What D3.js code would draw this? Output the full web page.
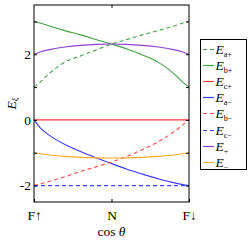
<!DOCTYPE html>
<html>
<head>
<meta charset="utf-8">
<script src="https://cdn.jsdelivr.net/npm/d3@7"></script>
<style>
  body { margin: 0; background: #fff; }
  svg { display: block; }
  text { font-family: "Liberation Serif", "DejaVu Serif", serif; }
</style>
</head>
<body>
<div id="chart"></div>
<script>
// position along cos(theta): 1 = F↑, 0 = N, -1 = F↓
const cosTheta = [1, 0.92, 0.8, 0.6, 0.4, 0.2, 0, -0.2, -0.4, -0.6, -0.8, -0.92, -1];

const Eap = [1.0, 1.15, 1.42, 1.76, 1.95, 2.13, 2.31, 2.45, 2.59, 2.72, 2.86, 2.95, 3.0];
const Ebp = [3.0, 2.95, 2.86, 2.72, 2.59, 2.45, 2.31, 2.16, 1.98, 1.76, 1.42, 1.15, 1.0];
const Ecp = [0, 0, 0, 0, 0, 0, 0, 0, 0, 0, 0, 0, 0];
const Eam = [0, -0.24, -0.47, -0.75, -0.96, -1.15, -1.33, -1.5, -1.65, -1.79, -1.91, -1.97, -2.0];
const Ebm = [-2.0, -1.95, -1.87, -1.73, -1.57, -1.43, -1.28, -1.11, -0.9, -0.67, -0.37, -0.15, 0];
const Ecm = [-2, -2, -2, -2, -2, -2, -2, -2, -2, -2, -2, -2, -2];
const Eplus = [2.0, 2.07, 2.14, 2.22, 2.27, 2.3, 2.31, 2.3, 2.27, 2.22, 2.14, 2.07, 2.0];
const Eminus = [-1.0, -1.03, -1.07, -1.11, -1.14, -1.155, -1.16, -1.155, -1.14, -1.11, -1.07, -1.03, -1.0];

const xTicks = [1, 0, -1];
const xTickLabels = ['F\u2191', 'N', 'F\u2193'];
const yTicks = [-2, -1, 0, 1, 2, 3];
const yTickLabels = ['-2', '', '0', '', '2', ''];

const series = [
  { main: 'E', sub: 'a+', values: Eap, color: '#3ea33e', dash: '4,3' },
  { main: 'E', sub: 'b+', values: Ebp, color: '#3ea33e', dash: null },
  { main: 'E', sub: 'c+', values: Ecp, color: '#ff3b3b', dash: null },
  { main: 'E', sub: 'a\u2212', values: Eam, color: '#3a3aff', dash: null },
  { main: 'E', sub: 'b\u2212', values: Ebm, color: '#ff4a4a', dash: '4,3' },
  { main: 'E', sub: 'c\u2212', values: Ecm, color: '#3a4aff', dash: '4,3' },
  { main: 'E', sub: '+', values: Eplus, color: '#9040d0', dash: null },
  { main: 'E', sub: '\u2212', values: Eminus, color: '#ffaa22', dash: null }
];

const margin = { top: 5, right: 61, bottom: 39, left: 34 };
const width = 250 - margin.left - margin.right;
const height = 241 - margin.top - margin.bottom;

const x = d3.scaleLinear().domain([1, -1]).range([0, width]);
const y = d3.scaleLinear().domain([-2.5, 3.5]).range([height, 0]);

const svg = d3.select('#chart').append('svg')
  .attr('width', 250)
  .attr('height', 241);

const g = svg.append('g')
  .attr('transform', `translate(${margin.left},${margin.top})`);

const line = d3.line()
  .x((d, i) => x(cosTheta[i]))
  .y(d => y(d))
  .curve(d3.curveMonotoneX);

series.forEach(s => {
  g.append('path')
    .datum(s.values)
    .attr('fill', 'none')
    .attr('stroke', s.color)
    .attr('stroke-width', 1.1)
    .attr('stroke-dasharray', s.dash)
    .attr('d', line);
});

// axes
const fmtY = d => yTickLabels[yTicks.indexOf(d)];
const fmtX = d => xTickLabels[xTicks.indexOf(d)];

g.append('g')
  .call(d3.axisLeft(y).tickValues(yTicks).tickSize(-3).tickPadding(3).tickFormat(fmtY))
  .call(a => a.select('.domain').remove());
g.append('g')
  .attr('transform', `translate(${width},0)`)
  .call(d3.axisRight(y).tickValues(yTicks).tickSize(-3).tickFormat(''))
  .call(a => a.select('.domain').remove());
g.append('g')
  .attr('transform', `translate(0,${height})`)
  .call(d3.axisBottom(x).tickValues(xTicks).tickSize(-3).tickPadding(8).tickFormat(fmtX))
  .call(a => a.select('.domain').remove());
g.append('g')
  .call(d3.axisTop(x).tickValues([0]).tickSize(-3).tickFormat(''))
  .call(a => a.select('.domain').remove());

g.selectAll('.tick text').attr('font-size', 13.5).attr('fill', '#000')
  .style('font-family', '"Liberation Serif", serif');

g.append('rect')
  .attr('width', width)
  .attr('height', height)
  .attr('fill', 'none')
  .attr('stroke', '#000')
  .attr('stroke-width', 1);

// axis titles
const xt = svg.append('text')
  .attr('x', margin.left + width / 2)
  .attr('y', 236)
  .attr('text-anchor', 'middle')
  .attr('font-size', 13.5);
xt.append('tspan').text('cos ');
xt.append('tspan').attr('font-style', 'italic').text('\u03b8');

const yt = svg.append('text')
  .attr('transform', `translate(16,${margin.top + height / 2}) rotate(-90)`)
  .attr('text-anchor', 'middle')
  .attr('font-size', 13.5);
yt.append('tspan').attr('font-style', 'italic').text('E');
yt.append('tspan').attr('font-size', 8.5).attr('dy', 2).attr('font-style', 'italic').text('\u03be');

// legend
const legend = svg.append('g').attr('transform', 'translate(200,39)');
legend.append('rect')
  .attr('x', 0.5).attr('y', 0.5)
  .attr('width', 46).attr('height', 130)
  .attr('fill', '#fff')
  .attr('stroke', '#000')
  .attr('stroke-width', 1);

series.forEach((s, i) => {
  const yy = Math.round(10 + i * 16.1) + 0.5;
  legend.append('line')
    .attr('x1', 3).attr('x2', 14)
    .attr('y1', yy).attr('y2', yy)
    .attr('stroke', s.color)
    .attr('stroke-width', 1.2)
    .attr('stroke-dasharray', s.dash ? '4,3' : null);
  const t = legend.append('text')
    .attr('x', 15.5)
    .attr('y', yy + 4)
    .attr('font-size', 13.5);
  t.append('tspan').attr('font-style', 'italic').text(s.main);
  t.append('tspan').attr('font-size', 8).attr('dy', 3).text(s.sub);
});
</script>
</body>
</html>
